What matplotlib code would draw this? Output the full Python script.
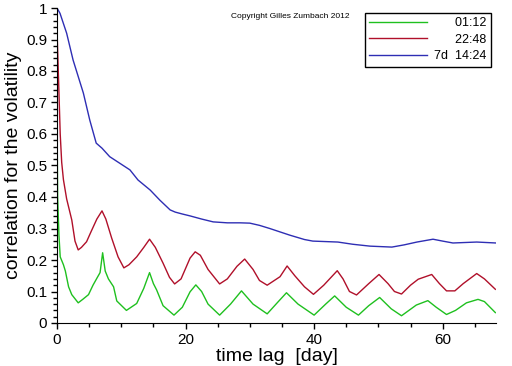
import matplotlib
matplotlib.use("Agg")
import matplotlib.pyplot as plt
from matplotlib.ticker import MultipleLocator, FuncFormatter

plt.rcParams['font.family'] = ['Liberation Sans', 'DejaVu Sans']

# 01:12 sampling
lag_1h = [0, 0.1, 0.3, 0.5, 1.0, 1.3, 1.8, 2.3, 3.3, 4.0, 4.9, 5.6, 6.2, 6.7, 7.1, 7.5, 8.0, 8.8,
          9.3, 10.8, 12.4, 13.5, 14.4, 15.0, 15.5, 16.5, 18.2, 19.5, 20.7, 21.6, 22.5, 23.5, 25.3,
          27.0, 28.7, 30.5, 32.7, 34.3, 35.7, 37.5, 40.0, 41.8, 43.2, 45.0, 46.9, 48.5, 50.2, 52.0,
          53.6, 55.9, 57.7, 59.0, 60.6, 62.0, 63.7, 65.5, 66.5, 68.2]
corr_1h = [0.667, 0.40, 0.28, 0.21, 0.185, 0.165, 0.115, 0.09, 0.064, 0.075, 0.09, 0.12, 0.142,
           0.16, 0.223, 0.165, 0.14, 0.115, 0.07, 0.04, 0.062, 0.11, 0.16, 0.125, 0.105, 0.055,
           0.025, 0.05, 0.099, 0.121, 0.10, 0.06, 0.025, 0.06, 0.102, 0.06, 0.029, 0.065, 0.096,
           0.06, 0.025, 0.06, 0.086, 0.05, 0.025, 0.055, 0.081, 0.045, 0.023, 0.057, 0.071, 0.05,
           0.027, 0.04, 0.064, 0.075, 0.068, 0.033]

# 22:48 sampling
lag_1d = [0, 0.05, 0.2, 0.5, 0.73, 1.0, 1.5, 2.3, 2.8, 3.3, 3.8, 4.6, 5.3, 6.2, 7.0, 7.6, 8.5, 9.5,
          10.4, 11.2, 12.4, 13.5, 14.4, 15.3, 16.5, 17.5, 18.3, 19.3, 20.7, 21.5, 22.3, 23.5, 25.3,
          26.5, 28.0, 29.2, 30.5, 31.5, 32.7, 34.7, 35.8, 37.0, 38.5, 39.9, 41.5, 43.6, 44.5, 45.5,
          46.6, 48.5, 50.1, 51.5, 52.5, 53.6, 55.0, 56.2, 58.3, 59.5, 60.6, 61.9, 63.2, 65.3, 66.5,
          68.2]
corr_1d = [1.0, 0.9, 0.80, 0.6, 0.51, 0.455, 0.394, 0.327, 0.26, 0.232, 0.24, 0.258, 0.29, 0.33,
           0.356, 0.33, 0.27, 0.21, 0.175, 0.185, 0.21, 0.24, 0.266, 0.24, 0.19, 0.145, 0.124,
           0.14, 0.206, 0.226, 0.215, 0.17, 0.124, 0.14, 0.18, 0.203, 0.17, 0.135, 0.12, 0.147,
           0.181, 0.15, 0.115, 0.091, 0.12, 0.166, 0.14, 0.10, 0.089, 0.125, 0.154, 0.125, 0.10,
           0.092, 0.12, 0.139, 0.154, 0.125, 0.102, 0.102, 0.125, 0.157, 0.14, 0.107]

# 7d 14:24 sampling
lag_1w = [0, 0.47, 1.5, 2.5, 4.1, 5.1, 6.1, 7.0, 8.2, 11.35, 12.6, 14.5, 16.0, 17.6, 18.4, 19.5,
          20.7, 22.5, 24.3, 26.5, 28.5, 30.0, 31.5, 33.1, 36.2, 38.5, 39.8, 43.7, 46.0, 48.7, 52.1,
          54.0, 56.0, 58.5, 60.0, 61.6, 65.3, 68.3]
corr_1w = [1.0, 0.983, 0.92, 0.835, 0.73, 0.644, 0.571, 0.555, 0.528, 0.486, 0.454, 0.422, 0.39,
           0.359, 0.352, 0.346, 0.34, 0.33, 0.321, 0.318, 0.318, 0.317, 0.31, 0.30, 0.279, 0.265,
           0.26, 0.257, 0.25, 0.244, 0.241, 0.248, 0.257, 0.266, 0.26, 0.254, 0.257, 0.254]

labels = ['      01:12', '      22:48', '7d  14:24']

fig = plt.figure(figsize=(5.12, 3.66), dpi=100)
ax = fig.add_axes([57 / 512, 43 / 366, 439 / 512, 315 / 366])

ax.plot(lag_1h, corr_1h, color='#1fc01f', lw=1, label=labels[0])
ax.plot(lag_1d, corr_1d, color='#b0102a', lw=1, label=labels[1])
ax.plot(lag_1w, corr_1w, color='#2e2eb4', lw=1, label=labels[2])

ax.set_xlim(0, 68.3)
ax.set_ylim(0, 1)
ax.spines['top'].set_visible(False)
ax.spines['right'].set_visible(False)

ax.xaxis.set_major_locator(MultipleLocator(20))
ax.xaxis.set_minor_locator(MultipleLocator(5))
ax.yaxis.set_major_locator(MultipleLocator(0.1))
ax.yaxis.set_minor_locator(MultipleLocator(0.02))
ax.yaxis.set_major_formatter(FuncFormatter(lambda v, p: f'{v:g}'))
ax.tick_params(which='major', length=4, width=1, labelsize=11, pad=3)
ax.tick_params(which='minor', length=3, width=1)

ax.set_xlabel('time lag  [day]', fontsize=14)
ax.set_ylabel('correlation for the volatility', fontsize=14)
ax.xaxis.set_label_coords(0.5, -0.08)
ax.yaxis.set_label_coords(-0.08, 0.5)

leg = ax.legend(loc='upper right', fontsize=9, frameon=True, fancybox=False,
                edgecolor='black', framealpha=1, borderpad=0.35, labelspacing=0.35,
                handlelength=4.6, handletextpad=0.6, borderaxespad=0.4)
leg.get_frame().set_linewidth(1)

fig.text(290 / 512, 1 - 16 / 366, 'Copyright Gilles Zumbach 2012', fontsize=6,
         ha='center', va='center')

fig.savefig('out.png', dpi=100)
